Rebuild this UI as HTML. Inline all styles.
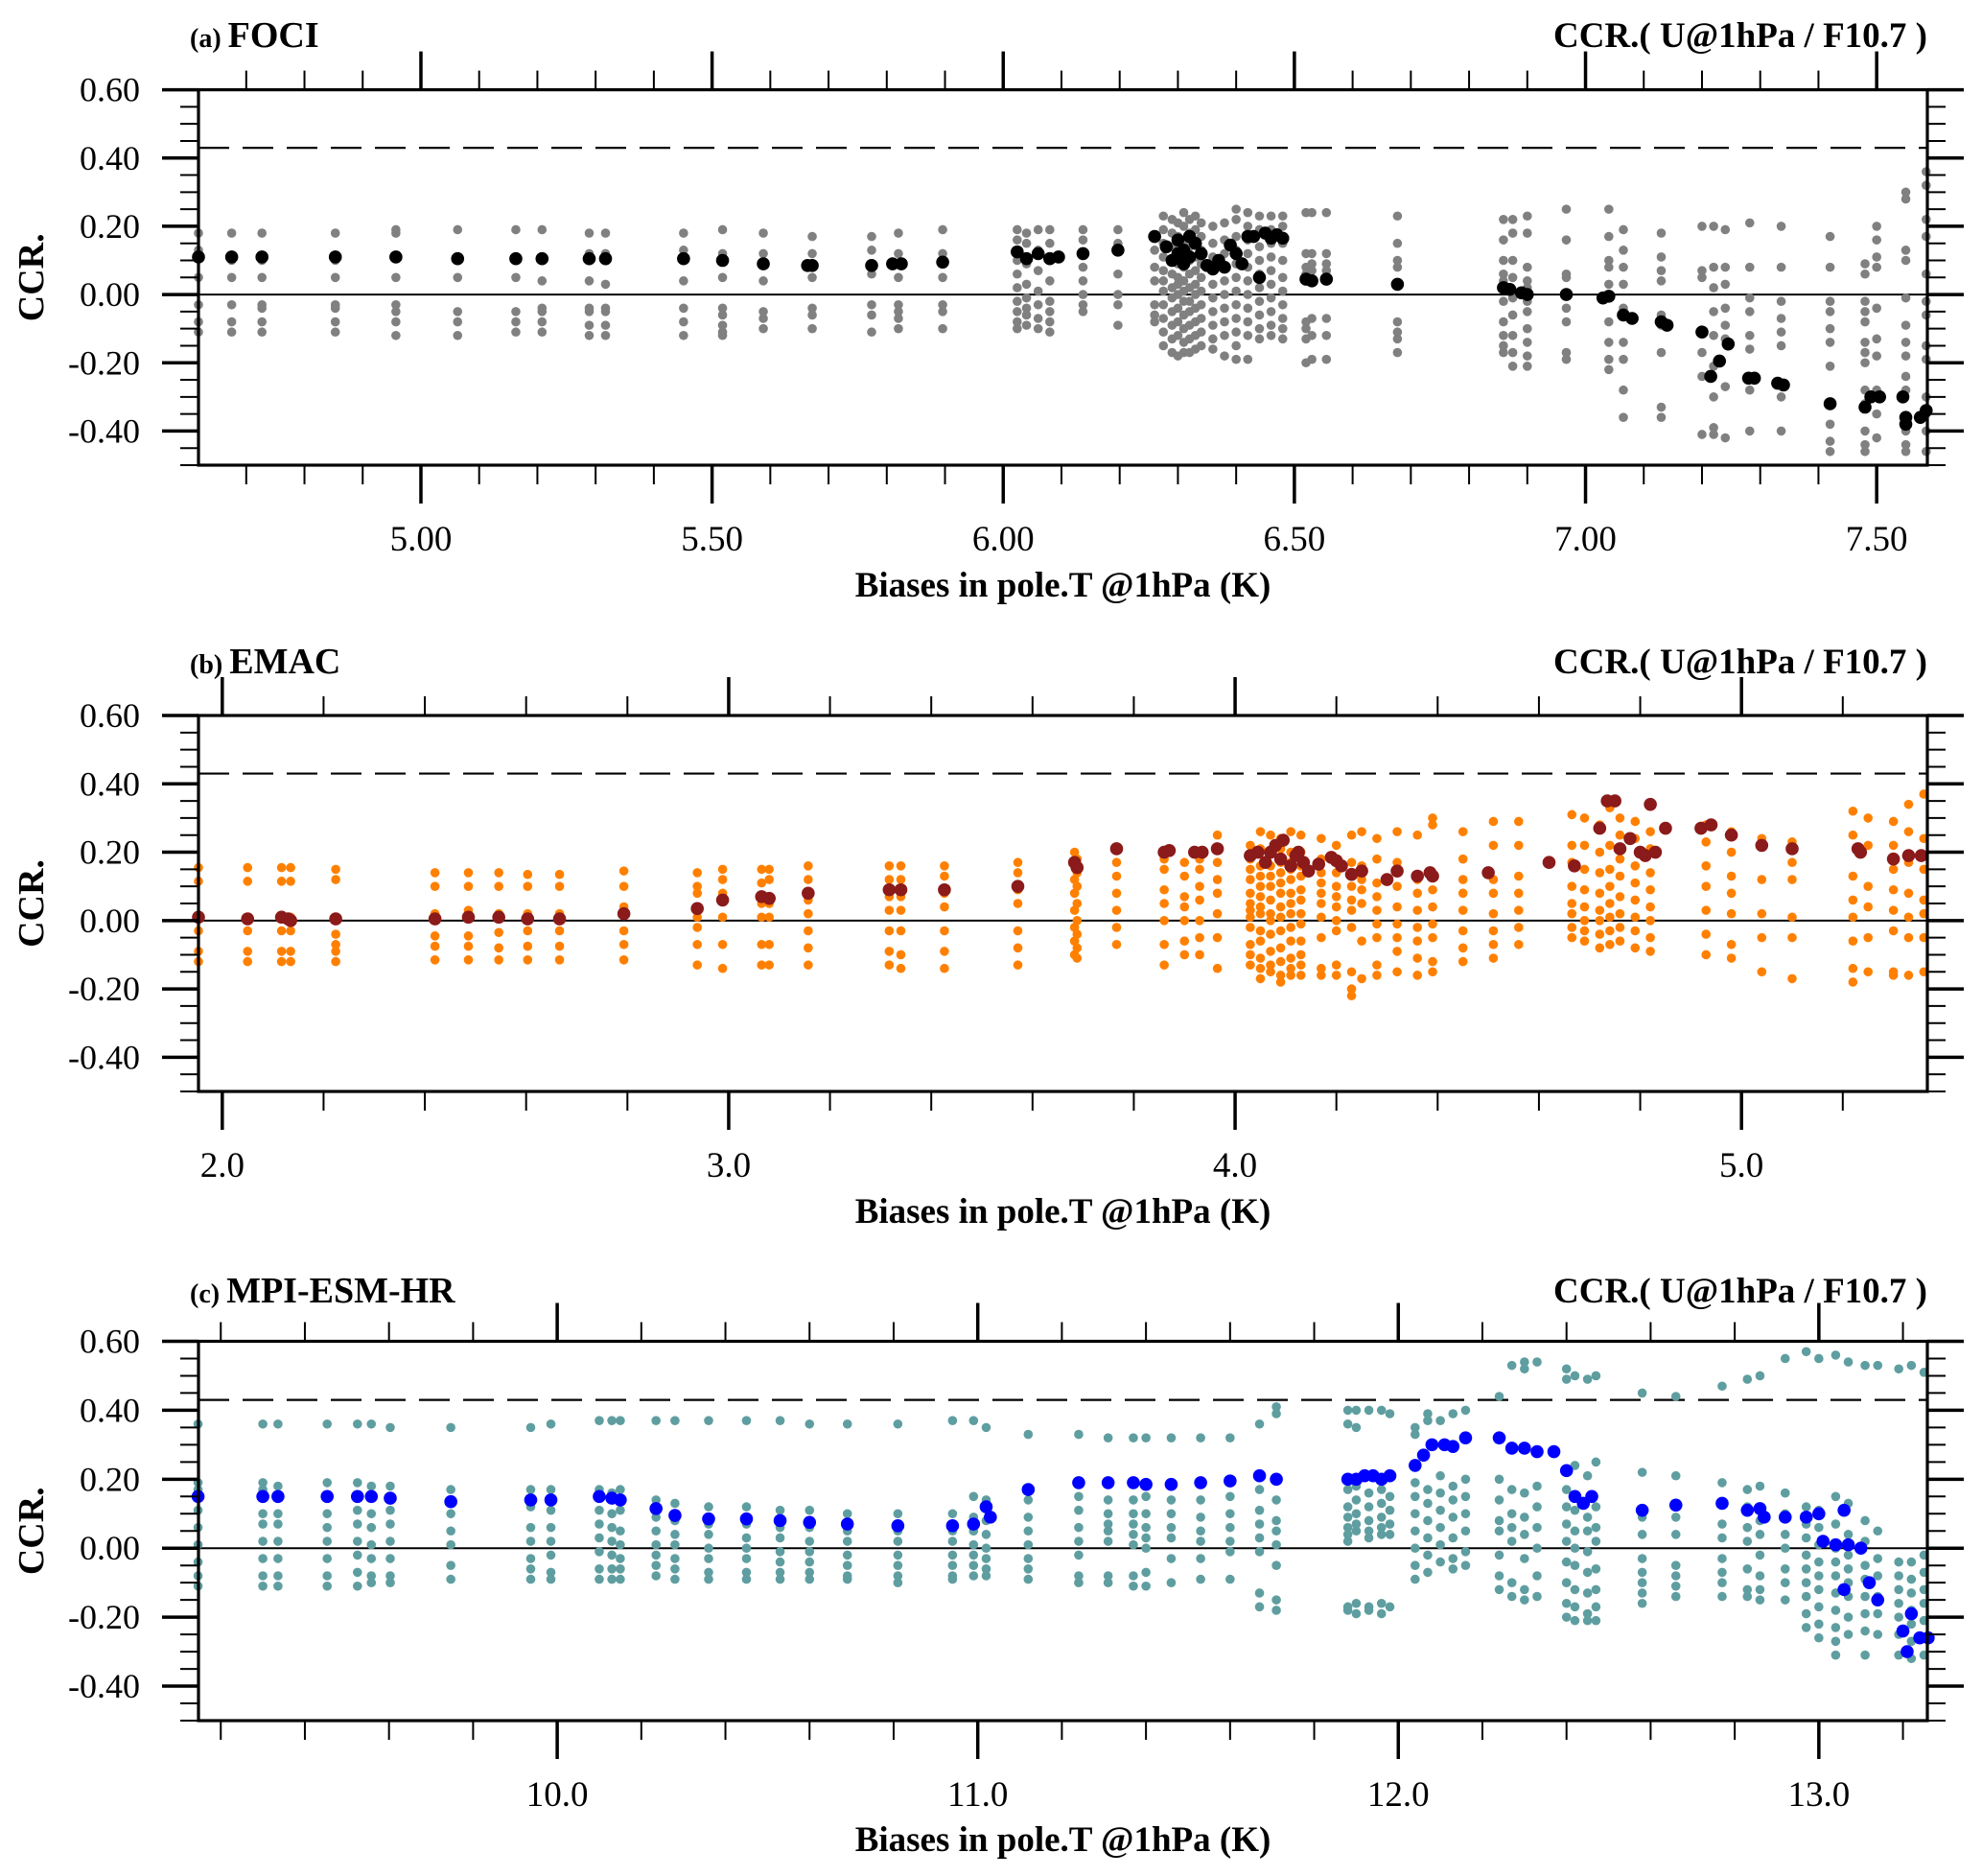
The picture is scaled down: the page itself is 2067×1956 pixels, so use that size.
<!DOCTYPE html>
<html><head><meta charset="utf-8">
<style>
html,body{margin:0;padding:0;background:#fff;}
svg{display:block;font-family:"Liberation Serif",serif;}
</style></head>
<body>
<svg id="fig" width="2067" height="1956" viewBox="0 0 2067 1956" xmlns="http://www.w3.org/2000/svg"></svg>
<script>
// ---------- Panel (a) FOCI ----------
const aCloudX = [4.618,4.675,4.727,4.853,4.957,5.063,5.163,5.208,5.289,5.317,5.451,5.518,5.588,5.672,5.774,5.82,5.896,6.024,6.04,6.06,6.08,6.137,6.197,
 6.26,6.275,6.29,6.30,6.31,6.32,6.33,6.34,6.36,6.38,6.40,6.42,6.44,6.46,6.48,
 6.52,6.53,6.555,6.677,6.859,6.875,6.9,6.967,7.04,7.065,7.13,7.2,7.22,7.24,7.282,7.336,7.42,7.48,7.50,7.55,7.585];
const aCloudY = [
 [0.18,0.13,0.05,-0.03,-0.08,-0.11],[0.18,0.10,0.05,-0.03,-0.08,-0.11],[0.18,0.10,0.05,-0.03,-0.04,-0.08,-0.11],
 [0.18,0.10,0.05,-0.03,-0.04,-0.08,-0.11],[0.19,0.18,0.05,-0.03,-0.05,-0.08,-0.12],[0.19,0.10,0.05,-0.05,-0.08,-0.12],
 [0.19,0.10,0.05,-0.05,-0.08,-0.11],[0.19,0.10,0.04,-0.04,-0.05,-0.08,-0.11],[0.18,0.12,0.04,-0.04,-0.05,-0.09,-0.12],
 [0.18,0.12,0.03,-0.04,-0.05,-0.09,-0.12],[0.18,0.13,0.04,-0.04,-0.08,-0.12],[0.19,0.12,0.05,-0.04,-0.06,-0.09,-0.11,-0.12],
 [0.18,0.12,0.04,-0.05,-0.07,-0.10],[0.17,0.12,0.05,-0.04,-0.06,-0.10],[0.17,0.13,0.06,-0.03,-0.06,-0.11],
 [0.18,0.12,0.05,-0.03,-0.05,-0.07,-0.10],[0.19,0.12,0.05,-0.03,-0.05,-0.10],
 [0.19,0.16,0.10,0.06,0.02,-0.02,-0.05,-0.08,-0.10],[0.18,0.15,0.09,0.03,-0.01,-0.04,-0.06,-0.09],
 [0.19,0.13,0.07,0.01,-0.03,-0.07,-0.10],[0.19,0.15,0.10,0.04,-0.02,-0.05,-0.08,-0.11],
 [0.19,0.16,0.12,0.08,0.04,0.00,-0.03,-0.05],[0.19,0.15,0.06,0.00,-0.03,-0.09],
 [0.17,0.13,0.08,0.04,-0.03,-0.06,-0.08],
 [0.23,0.19,0.15,0.11,0.07,0.04,0.01,-0.03,-0.07,-0.11,-0.15],
 [0.22,0.18,0.14,0.10,0.06,0.02,-0.01,-0.05,-0.09,-0.13,-0.17],
 [0.21,0.17,0.13,0.09,0.05,0.03,0.00,-0.04,-0.08,-0.12,-0.18],
 [0.24,0.20,0.16,0.12,0.08,0.04,0.01,-0.02,-0.06,-0.10,-0.14,-0.17],
 [0.22,0.18,0.14,0.10,0.06,0.02,-0.02,-0.05,-0.09,-0.13,-0.17],
 [0.23,0.19,0.15,0.11,0.07,0.03,0.00,-0.04,-0.08,-0.12,-0.16],
 [0.21,0.17,0.13,0.09,0.05,0.01,-0.03,-0.07,-0.11,-0.15],
 [0.20,0.15,0.11,0.07,0.03,-0.01,-0.05,-0.09,-0.13,-0.16],
 [0.21,0.16,0.12,0.08,0.04,0.00,-0.04,-0.08,-0.12,-0.18],
 [0.25,0.22,0.17,0.13,0.09,0.05,0.01,-0.03,-0.07,-0.11,-0.15,-0.19],
 [0.24,0.20,0.16,0.12,0.08,0.04,0.00,-0.04,-0.08,-0.12,-0.19],
 [0.23,0.19,0.14,0.10,0.06,0.02,-0.02,-0.06,-0.10,-0.13],
 [0.23,0.19,0.15,0.11,0.07,0.03,-0.01,-0.05,-0.09,-0.12],
 [0.23,0.20,0.15,0.10,0.05,0.01,-0.03,-0.07,-0.10,-0.13],
 [0.24,0.12,0.08,0.06,-0.08,-0.10,-0.13,-0.20],[0.24,0.12,0.09,0.07,-0.07,-0.12,-0.19],[0.24,0.12,0.09,0.07,-0.07,-0.12,-0.19],
 [0.23,0.15,0.10,0.08,-0.08,-0.11,-0.13,-0.17],
 [0.22,0.16,0.10,0.06,0.04,-0.02,-0.08,-0.12,-0.15,-0.17],[0.22,0.18,0.10,0.05,-0.01,-0.06,-0.12,-0.17,-0.21],
 [0.23,0.18,0.08,0.04,0.02,-0.02,-0.05,-0.10,-0.14,-0.18,-0.21],[0.25,0.16,0.06,0.05,-0.04,-0.08,-0.17,-0.19],
 [0.25,0.17,0.10,0.08,0.03,-0.08,-0.14,-0.19,-0.22],[0.19,0.13,0.08,0.03,-0.04,-0.14,-0.19,-0.28,-0.36],
 [0.18,0.11,0.07,0.04,-0.06,-0.09,-0.17,-0.33,-0.36],[0.20,0.07,0.05,-0.17,-0.24,-0.41],
 [0.20,0.08,0.02,-0.05,-0.12,-0.21,-0.30,-0.39,-0.41],[0.19,0.08,0.03,-0.04,-0.09,-0.13,-0.27,-0.42],
 [0.21,0.08,-0.01,-0.05,-0.12,-0.16,-0.28,-0.40],[0.20,0.08,-0.02,-0.07,-0.11,-0.15,-0.26,-0.30,-0.40],
 [0.17,0.08,-0.02,-0.05,-0.10,-0.14,-0.21,-0.38,-0.43,-0.46],
 [0.09,0.06,-0.02,-0.05,-0.08,-0.14,-0.17,-0.20,-0.28,-0.32,-0.40,-0.44,-0.46],
 [0.20,0.16,0.11,0.08,-0.04,-0.13,-0.18,-0.28,-0.35,-0.42],
 [0.30,0.28,0.13,0.10,-0.01,-0.09,-0.14,-0.18,-0.24,-0.28,-0.40,-0.44,-0.46],
 [0.36,0.32,0.22,0.17,0.06,-0.02,-0.06,-0.15,-0.19,-0.30,-0.35,-0.40,-0.46]
];
const aMeanX = [4.618,4.675,4.727,4.853,4.957,5.063,5.163,5.208,5.289,5.317,5.451,5.518,5.588,5.664,5.672,5.774,5.81,5.825,5.896,6.024,6.04,6.06,6.08,6.095,6.137,6.197,6.26,
 6.28,6.29,6.30,6.30,6.31,6.31,6.32,6.32,6.33,6.34,6.35,6.36,6.37,6.38,6.39,6.40,6.41,6.42,6.43,6.44,6.45,6.46,6.47,6.48,
 6.52,6.53,6.555,6.677,6.859,6.87,6.89,6.9,6.967,7.03,7.04,7.065,7.08,7.13,7.14,7.20,7.215,7.23,7.245,7.28,7.29,7.33,7.34,7.42,7.48,7.49,7.505,7.545,7.55,7.55,7.575,7.585];
const aMeanY = [0.11,0.11,0.11,0.11,0.11,0.105,0.105,0.105,0.105,0.105,0.105,0.10,0.09,0.085,0.085,0.085,0.09,0.09,0.095,0.125,0.105,0.12,0.105,0.11,0.12,0.13,0.17,
 0.14,0.10,0.12,0.16,0.09,0.13,0.17,0.11,0.15,0.12,0.085,0.075,0.10,0.08,0.145,0.12,0.09,0.17,0.17,0.05,0.18,0.165,0.175,0.165,
 0.045,0.04,0.045,0.03,0.02,0.015,0.005,0.0,0.0,-0.01,-0.005,-0.06,-0.07,-0.08,-0.09,-0.11,-0.24,-0.195,-0.145,-0.245,-0.245,-0.26,-0.265,-0.32,-0.33,-0.30,-0.30,-0.30,-0.36,-0.38,-0.36,-0.34];

// ---------- Panel (b) EMAC ----------
const bCloudX = [1.953,2.05,2.117,2.135,2.224,2.42,2.486,2.546,2.603,2.666,2.793,2.938,2.988,3.065,3.08,3.157,3.317,3.34,3.426,3.571,3.683,3.688,3.766,3.86,3.90,3.93,3.965,
 4.03,4.05,4.07,4.09,4.11,4.13,4.17,4.20,4.23,4.25,4.28,4.32,4.36,4.39,4.45,4.51,4.56,4.665,4.69,4.72,4.74,4.76,4.79,4.82,4.93,4.98,5.04,5.10,5.22,5.25,5.30,5.33,5.36];
const bCloudY = [
 [0.155,0.115,0.01,-0.03,-0.09,-0.12],[0.155,0.115,0.01,-0.03,-0.09,-0.12],[0.155,0.115,0.01,-0.03,-0.09,-0.12],
 [0.155,0.115,0.01,-0.03,-0.09,-0.12],[0.15,0.12,0.01,-0.04,-0.07,-0.09,-0.12],
 [0.14,0.10,0.02,-0.045,-0.075,-0.115],[0.14,0.10,0.03,-0.045,-0.075,-0.115],[0.14,0.10,0.02,-0.035,-0.08,-0.115],
 [0.135,0.10,0.02,-0.03,-0.075,-0.115],[0.135,0.10,0.02,-0.03,-0.075,-0.115],[0.145,0.10,0.04,-0.03,-0.07,-0.115],
 [0.14,0.10,0.08,0.01,-0.02,-0.07,-0.13],[0.15,0.12,0.08,0.01,-0.07,-0.14],[0.15,0.11,0.05,0.01,-0.07,-0.13],
 [0.15,0.12,0.05,0.01,-0.07,-0.13],[0.16,0.12,0.06,0.02,-0.03,-0.08,-0.13],[0.16,0.12,0.07,0.03,-0.03,-0.09,-0.13],
 [0.16,0.12,0.07,0.03,-0.03,-0.10,-0.14],[0.16,0.13,0.08,0.04,-0.03,-0.09,-0.14],[0.17,0.14,0.09,0.05,-0.03,-0.08,-0.13],
 [0.20,0.16,0.12,0.08,0.03,-0.02,-0.06,-0.10],[0.18,0.14,0.10,0.05,0.00,-0.04,-0.08,-0.11],[0.17,0.13,0.08,0.03,-0.02,-0.07],
 [0.18,0.15,0.09,0.05,0.00,-0.07,-0.13],[0.17,0.13,0.07,0.04,0.00,-0.06,-0.10],[0.18,0.15,0.10,0.06,0.00,-0.05,-0.10],
 [0.25,0.17,0.12,0.08,0.02,-0.05,-0.14],
 [0.22,0.18,0.15,0.12,0.08,0.05,0.03,0.01,-0.02,-0.07,-0.10,-0.13],
 [0.26,0.21,0.16,0.13,0.10,0.07,0.04,0.02,-0.03,-0.06,-0.11,-0.14,-0.17],
 [0.25,0.20,0.16,0.13,0.10,0.06,0.02,0.00,-0.04,-0.09,-0.13,-0.15],
 [0.24,0.21,0.17,0.14,0.11,0.08,0.04,0.01,-0.03,-0.08,-0.12,-0.16,-0.18],
 [0.26,0.20,0.17,0.15,0.12,0.08,0.05,0.02,-0.02,-0.06,-0.11,-0.14,-0.16],
 [0.25,0.20,0.16,0.13,0.09,0.06,0.02,-0.01,-0.06,-0.10,-0.13,-0.16],
 [0.24,0.18,0.14,0.11,0.08,0.05,0.01,-0.05,-0.14,-0.16],
 [0.22,0.18,0.14,0.10,0.07,0.04,0.00,-0.03,-0.13,-0.16],
 [0.25,0.17,0.13,0.10,0.06,0.03,-0.02,-0.15,-0.20,-0.22],
 [0.26,0.16,0.12,0.09,0.05,-0.06,-0.17],
 [0.24,0.18,0.11,0.07,0.03,-0.01,-0.05,-0.13,-0.16],
 [0.26,0.17,0.10,0.04,-0.01,-0.05,-0.09,-0.15],
 [0.25,0.12,0.08,0.03,-0.02,-0.06,-0.11,-0.16],
 [0.30,0.28,0.13,0.09,0.04,-0.01,-0.05,-0.12,-0.15],
 [0.26,0.18,0.12,0.08,0.03,-0.03,-0.08,-0.12],
 [0.29,0.22,0.12,0.08,0.02,-0.03,-0.07,-0.11],
 [0.29,0.22,0.13,0.08,0.03,-0.02,-0.07],
 [0.31,0.22,0.17,0.10,0.05,0.02,-0.02,-0.05],
 [0.30,0.22,0.15,0.09,0.04,0.00,-0.03,-0.06],
 [0.28,0.20,0.14,0.08,0.03,0.00,-0.04,-0.08],
 [0.33,0.22,0.15,0.10,0.05,0.01,-0.03,-0.07],
 [0.30,0.25,0.18,0.13,0.07,0.02,-0.02,-0.06],
 [0.29,0.24,0.16,0.11,0.06,0.01,-0.03,-0.08],
 [0.26,0.21,0.14,0.09,0.04,0.00,-0.05,-0.09],
 [0.28,0.23,0.16,0.10,0.03,-0.04,-0.10],
 [0.26,0.20,0.13,0.08,0.02,-0.07,-0.11],
 [0.24,0.12,0.02,-0.05,-0.15],
 [0.23,0.17,0.12,0.01,-0.05,-0.17],
 [0.32,0.25,0.13,0.06,0.01,-0.06,-0.14,-0.18],
 [0.30,0.22,0.10,0.04,-0.05,-0.15],
 [0.29,0.22,0.15,0.09,0.03,-0.03,-0.15,-0.16],
 [0.34,0.26,0.17,0.08,0.01,-0.05,-0.16],
 [0.37,0.24,0.15,0.06,0.02,-0.05,-0.15]
];
const bMeanX = [1.953,2.05,2.117,2.13,2.135,2.224,2.42,2.486,2.546,2.603,2.666,2.793,2.938,2.988,3.065,3.08,3.157,3.317,3.34,3.426,3.571,3.683,3.688,3.766,3.86,3.87,3.92,3.935,3.965,
 4.03,4.045,4.06,4.07,4.08,4.09,4.095,4.11,4.12,4.125,4.135,4.145,4.165,4.19,4.2,4.21,4.23,4.25,4.3,4.32,4.36,4.385,4.39,4.5,4.62,4.67,4.72,4.735,4.75,4.76,4.78,4.8,4.81,4.82,4.83,4.85,4.92,4.94,4.98,5.04,5.1,5.23,5.235,5.30,5.33,5.355];
const bMeanY = [0.01,0.005,0.01,0.005,0.0,0.005,0.005,0.01,0.01,0.005,0.005,0.02,0.035,0.06,0.07,0.065,0.08,0.09,0.09,0.09,0.1,0.17,0.155,0.21,0.2,0.205,0.2,0.2,0.21,
 0.19,0.2,0.17,0.2,0.22,0.18,0.235,0.16,0.19,0.2,0.17,0.145,0.165,0.185,0.175,0.16,0.135,0.145,0.12,0.145,0.13,0.14,0.13,0.14,0.17,0.16,0.27,0.35,0.35,0.21,0.24,0.2,0.19,0.34,0.2,0.27,0.27,0.28,0.25,0.22,0.21,0.21,0.2,0.18,0.19,0.19];

// ---------- Panel (c) MPI-ESM-HR ----------
const cCloudX = [9.146,9.3,9.336,9.453,9.525,9.558,9.603,9.747,9.937,9.985,10.1,10.13,10.15,10.235,10.28,10.36,10.45,10.53,10.6,10.69,10.81,10.94,10.99,11.02,11.12,11.24,11.31,11.37,11.4,11.46,11.53,11.6,11.67,11.71,
 11.88,11.9,11.93,11.96,11.98,12.04,12.07,12.1,12.13,12.16,12.24,12.27,12.3,12.33,12.4,12.42,12.45,12.47,12.58,12.66,12.77,12.83,12.86,12.92,12.97,13.0,13.04,13.07,13.11,13.14,13.19,13.22,13.25];
const cCloudY = [
 [0.36,0.19,0.17,0.11,0.06,0.01,-0.04,-0.08,-0.11],[0.36,0.19,0.17,0.10,0.07,0.02,-0.03,-0.08,-0.11],
 [0.36,0.18,0.10,0.07,0.02,-0.03,-0.08,-0.11],[0.36,0.19,0.10,0.06,0.02,-0.03,-0.08,-0.11],
 [0.36,0.19,0.11,0.07,0.02,-0.02,-0.07,-0.11],[0.36,0.18,0.10,0.06,0.01,-0.03,-0.08,-0.10],
 [0.35,0.18,0.11,0.07,0.02,-0.03,-0.08,-0.10],[0.35,0.17,0.10,0.05,0.01,-0.05,-0.09],
 [0.35,0.17,0.12,0.06,0.02,-0.03,-0.06,-0.09],[0.36,0.17,0.11,0.06,0.02,-0.02,-0.07,-0.09],
 [0.37,0.17,0.11,0.07,0.03,-0.01,-0.06,-0.09],[0.37,0.16,0.10,0.06,0.02,-0.02,-0.06,-0.09],
 [0.37,0.17,0.11,0.05,0.01,-0.03,-0.06,-0.09],[0.37,0.14,0.09,0.05,0.01,-0.02,-0.05,-0.08],
 [0.37,0.13,0.08,0.04,0.01,-0.03,-0.06,-0.09],[0.37,0.12,0.07,0.04,0.0,-0.03,-0.07,-0.09],
 [0.37,0.12,0.07,0.03,0.0,-0.03,-0.07,-0.09],[0.37,0.11,0.06,0.03,-0.01,-0.04,-0.07,-0.09],
 [0.36,0.11,0.06,0.02,-0.01,-0.04,-0.07,-0.09],[0.36,0.10,0.05,0.02,-0.02,-0.05,-0.08,-0.09],
 [0.36,0.10,0.05,0.02,-0.02,-0.05,-0.08,-0.10],[0.37,0.10,0.05,0.02,-0.02,-0.05,-0.08,-0.09],
 [0.37,0.15,0.09,0.05,0.01,-0.02,-0.05,-0.08],[0.35,0.14,0.08,0.04,0.0,-0.03,-0.06,-0.08],
 [0.33,0.14,0.09,0.05,0.01,-0.03,-0.06,-0.09],[0.33,0.15,0.11,0.06,0.02,-0.02,-0.08,-0.10],
 [0.32,0.14,0.10,0.07,0.05,0.02,-0.08,-0.10],[0.32,0.14,0.10,0.07,0.04,0.01,-0.08,-0.11],
 [0.32,0.15,0.10,0.06,0.03,0.0,-0.07,-0.11],[0.32,0.14,0.10,0.06,0.03,-0.03,-0.10],
 [0.32,0.14,0.09,0.05,0.02,-0.03,-0.09],[0.32,0.15,0.10,0.06,0.02,-0.01,-0.09],
 [0.36,0.17,0.11,0.07,0.03,-0.01,-0.13,-0.17],[0.41,0.39,0.14,0.08,0.05,0.01,-0.05,-0.15,-0.18],
 [0.40,0.36,0.17,0.12,0.09,0.06,0.04,0.02,-0.17,-0.18],[0.40,0.35,0.18,0.14,0.10,0.07,0.05,-0.16,-0.19],
 [0.40,0.16,0.12,0.08,0.05,0.03,-0.17,-0.18],[0.40,0.17,0.13,0.09,0.06,0.04,-0.16,-0.19],
 [0.39,0.15,0.11,0.07,0.04,-0.17],
 [0.35,0.33,0.19,0.15,0.10,0.05,0.0,-0.05,-0.09],[0.39,0.37,0.17,0.13,0.08,0.03,-0.02,-0.07],
 [0.37,0.21,0.16,0.11,0.06,0.01,-0.04],[0.39,0.18,0.14,0.09,0.03,-0.03,-0.06],[0.40,0.20,0.15,0.10,0.05,-0.01,-0.05],
 [0.44,0.20,0.14,0.08,0.05,-0.02,-0.08,-0.12],[0.53,0.17,0.10,0.06,0.02,-0.10,-0.14],
 [0.54,0.52,0.16,0.09,0.04,-0.03,-0.12,-0.15],[0.54,0.18,0.12,0.06,0.0,-0.08,-0.14],
 [0.52,0.49,0.17,0.12,0.07,0.02,-0.04,-0.10,-0.16,-0.20],[0.50,0.24,0.11,0.05,0.0,-0.05,-0.12,-0.17,-0.21],
 [0.49,0.21,0.09,0.05,-0.01,-0.07,-0.13,-0.19,-0.21],[0.50,0.25,0.12,0.06,0.02,-0.06,-0.12,-0.17,-0.21],
 [0.45,0.22,0.09,0.04,-0.03,-0.07,-0.10,-0.13,-0.16],[0.44,0.21,0.09,0.04,-0.05,-0.08,-0.11,-0.14],
 [0.47,0.19,0.07,0.03,-0.03,-0.07,-0.10,-0.14],[0.49,0.17,0.12,0.06,0.02,-0.06,-0.12,-0.14],
 [0.50,0.18,0.08,0.04,-0.02,-0.08,-0.12,-0.15],[0.55,0.16,0.10,0.04,0.0,-0.06,-0.10,-0.15],
 [0.57,0.12,0.07,0.03,-0.02,-0.06,-0.10,-0.14,-0.19,-0.23],[0.55,0.11,0.06,0.01,-0.04,-0.08,-0.12,-0.17,-0.22,-0.26],
 [0.56,0.15,0.07,0.0,-0.04,-0.08,-0.13,-0.18,-0.23,-0.27,-0.31],[0.54,0.13,0.04,-0.02,-0.06,-0.10,-0.14,-0.20,-0.25],
 [0.53,0.08,0.02,-0.05,-0.09,-0.14,-0.19,-0.24,-0.31],[0.53,0.05,-0.03,-0.08,-0.14,-0.19,-0.25],
 [0.52,-0.04,-0.08,-0.12,-0.16,-0.20,-0.25,-0.31],[0.53,-0.04,-0.09,-0.13,-0.18,-0.22,-0.27,-0.32],
 [0.51,-0.02,-0.07,-0.12,-0.16,-0.21,-0.26,-0.31]
];
const cMeanX = [9.146,9.3,9.336,9.453,9.525,9.558,9.603,9.747,9.937,9.985,10.1,10.13,10.15,10.235,10.28,10.36,10.45,10.53,10.6,10.69,10.81,10.94,10.99,11.02,11.03,11.12,11.24,11.31,11.37,11.4,11.46,11.53,11.6,11.67,11.71,
 11.88,11.9,11.92,11.94,11.96,11.98,12.04,12.06,12.08,12.11,12.13,12.16,12.24,12.27,12.3,12.33,12.37,12.4,12.42,12.44,12.46,12.58,12.66,12.77,12.83,12.86,12.87,12.92,12.97,13.0,13.01,13.04,13.06,13.07,13.06,13.1,13.12,13.14,13.2,13.21,13.22,13.24,13.26];
const cMeanY = [0.15,0.15,0.15,0.15,0.15,0.15,0.145,0.135,0.14,0.14,0.15,0.145,0.14,0.115,0.095,0.085,0.085,0.08,0.075,0.07,0.065,0.065,0.07,0.12,0.09,0.17,0.19,0.19,0.19,0.185,0.185,0.19,0.195,0.21,0.2,
 0.2,0.2,0.21,0.21,0.2,0.21,0.24,0.27,0.3,0.3,0.295,0.32,0.32,0.29,0.29,0.28,0.28,0.225,0.15,0.13,0.15,0.11,0.125,0.13,0.11,0.115,0.09,0.09,0.09,0.1,0.02,0.01,0.11,0.01,-0.12,0.0,-0.1,-0.15,-0.24,-0.3,-0.19,-0.26,-0.26];

// ---------- layout ----------
const NS = 'http://www.w3.org/2000/svg';
const svg = document.getElementById('fig');
function mk(tag, attrs, parent){ const e=document.createElementNS(NS,tag); for(const k in attrs) e.setAttribute(k,attrs[k]); (parent||svg).appendChild(e); return e; }

const panels = [
 {id:'a', letter:'(a)', name:'FOCI', top:93.6, bottom:485, xmin:4.618, xmax:7.587, xmaj:[5.0,5.5,6.0,6.5,7.0,7.5], xminStep:0.1, dec:2,
  titleY:49, tickY:574, xtitleY:622, cx:aCloudX, cy:aCloudY, mx:aMeanX, my:aMeanY, cloudCol:'#808080', meanCol:'#000000'},
 {id:'b', letter:'(b)', name:'EMAC', top:746, bottom:1138, xmin:1.953, xmax:5.367, xmaj:[2,3,4,5], xminStep:0.2, dec:1,
  titleY:702, tickY:1227, xtitleY:1275, cx:bCloudX, cy:bCloudY, mx:bMeanX, my:bMeanY, cloudCol:'#ff8000', meanCol:'#8b1a1a'},
 {id:'c', letter:'(c)', name:'MPI-ESM-HR', top:1398.5, bottom:1794, xmin:9.147, xmax:13.258, xmaj:[10,11,12,13], xminStep:0.2, dec:1,
  titleY:1358, tickY:1883, xtitleY:1930, cx:cCloudX, cy:cCloudY, mx:cMeanX, my:cMeanY, cloudCol:'#5f9ea0', meanCol:'#0000ff'}
];
const L=207, R=2010, YMIN=-0.5, YMAX=0.6;
const yTicks=[0.6,0.4,0.2,0.0,-0.2,-0.4];

panels.forEach(p=>{
  const g = mk('g',{});
  
  
  const X = v => L + (v-p.xmin)/(p.xmax-p.xmin)*(R-L);
  const Y = v => p.bottom - (v-YMIN)/(YMAX-YMIN)*(p.bottom-p.top);

  const t = mk('text',{x:198,y:p.titleY,'font-size':38,'font-weight':'bold'},g);
  
  
  const s1 = mk('tspan',{'font-size':28},t); s1.textContent=p.letter+' ';
  const s2 = mk('tspan',{},t); s2.textContent=p.name;
  const t2 = mk('text',{x:R,y:p.titleY,'font-size':37,'font-weight':'bold','text-anchor':'end'},g);
  
  
  t2.textContent='CCR.( U@1hPa / F10.7 )';

  const yc=(p.top+p.bottom)/2;
  const yt = mk('text',{x:0,y:0,'font-size':38,'font-weight':'bold','text-anchor':'middle',transform:`translate(45,${yc}) rotate(-90)`},g);
  
  
  yt.textContent='CCR.';
  const xt = mk('text',{x:(L+R)/2,y:p.xtitleY,'font-size':37,'font-weight':'bold','text-anchor':'middle'},g);
  
  
  xt.textContent='Biases in pole.T @1hPa (K)';

  const dl = mk('line',{x1:L,x2:R,y1:Y(0.43),y2:Y(0.43),stroke:'#000','stroke-width':2.2,'stroke-dasharray':'32,14'},g);
  
  
  const zl = mk('line',{x1:L,x2:R,y1:Y(0),y2:Y(0),stroke:'#000','stroke-width':2},g);
  
  

  const cg = mk('g',{fill:p.cloudCol},g);
  
  
  p.cx.forEach((xv,i)=>{
    p.cy[i].forEach(yv=>{
      const c = mk('circle',{cx:X(xv),cy:Y(yv),r:4.8},cg);
      
      
    });
  });
  const mg = mk('g',{fill:p.meanCol},g);
  
  
  p.mx.forEach((xv,i)=>{
    const c = mk('circle',{cx:X(xv),cy:Y(p.my[i]),r:6.8},mg);
    
    
  });

  const fr = mk('rect',{x:L,y:p.top,width:R-L,height:p.bottom-p.top,fill:'none',stroke:'#000','stroke-width':3.2},g);
  
  

  for(let k=0;k<=22;k++){
    const v = YMIN + k*0.05; const yy=Y(v);
    const major = Math.abs(Math.round(v*100)%20)===0 && v>-0.45 && v<0.65;
    const len = major?38:19, w = major?3.5:2;
    mk('line',{x1:L-len,x2:L,y1:yy,y2:yy,stroke:'#000','stroke-width':w},g);
    mk('line',{x1:R,x2:R+len,y1:yy,y2:yy,stroke:'#000','stroke-width':w},g);
  }
  yTicks.forEach(v=>{
    const tl = mk('text',{x:146,y:Y(v)+12,'font-size':36,'text-anchor':'end'},g);
    
    
    tl.textContent=v.toFixed(2);
  });

  const start = Math.ceil(p.xmin/p.xminStep - 1e-6);
  for(let k=start; k*p.xminStep<=p.xmax+1e-9; k++){
    const v = k*p.xminStep; const xx=X(v);
    const major = p.xmaj.some(m=>Math.abs(m-v)<1e-6);
    const len = major?40:20, w = major?3.5:2;
    mk('line',{x1:xx,x2:xx,y1:p.top-len,y2:p.top,stroke:'#000','stroke-width':w},g);
    mk('line',{x1:xx,x2:xx,y1:p.bottom,y2:p.bottom+len,stroke:'#000','stroke-width':w},g);
  }
  p.xmaj.forEach(v=>{
    const tl = mk('text',{x:X(v),y:p.tickY,'font-size':37,'text-anchor':'middle'},g);
    
    
    tl.textContent=v.toFixed(p.dec);
  });
});
</script>
</body></html>
